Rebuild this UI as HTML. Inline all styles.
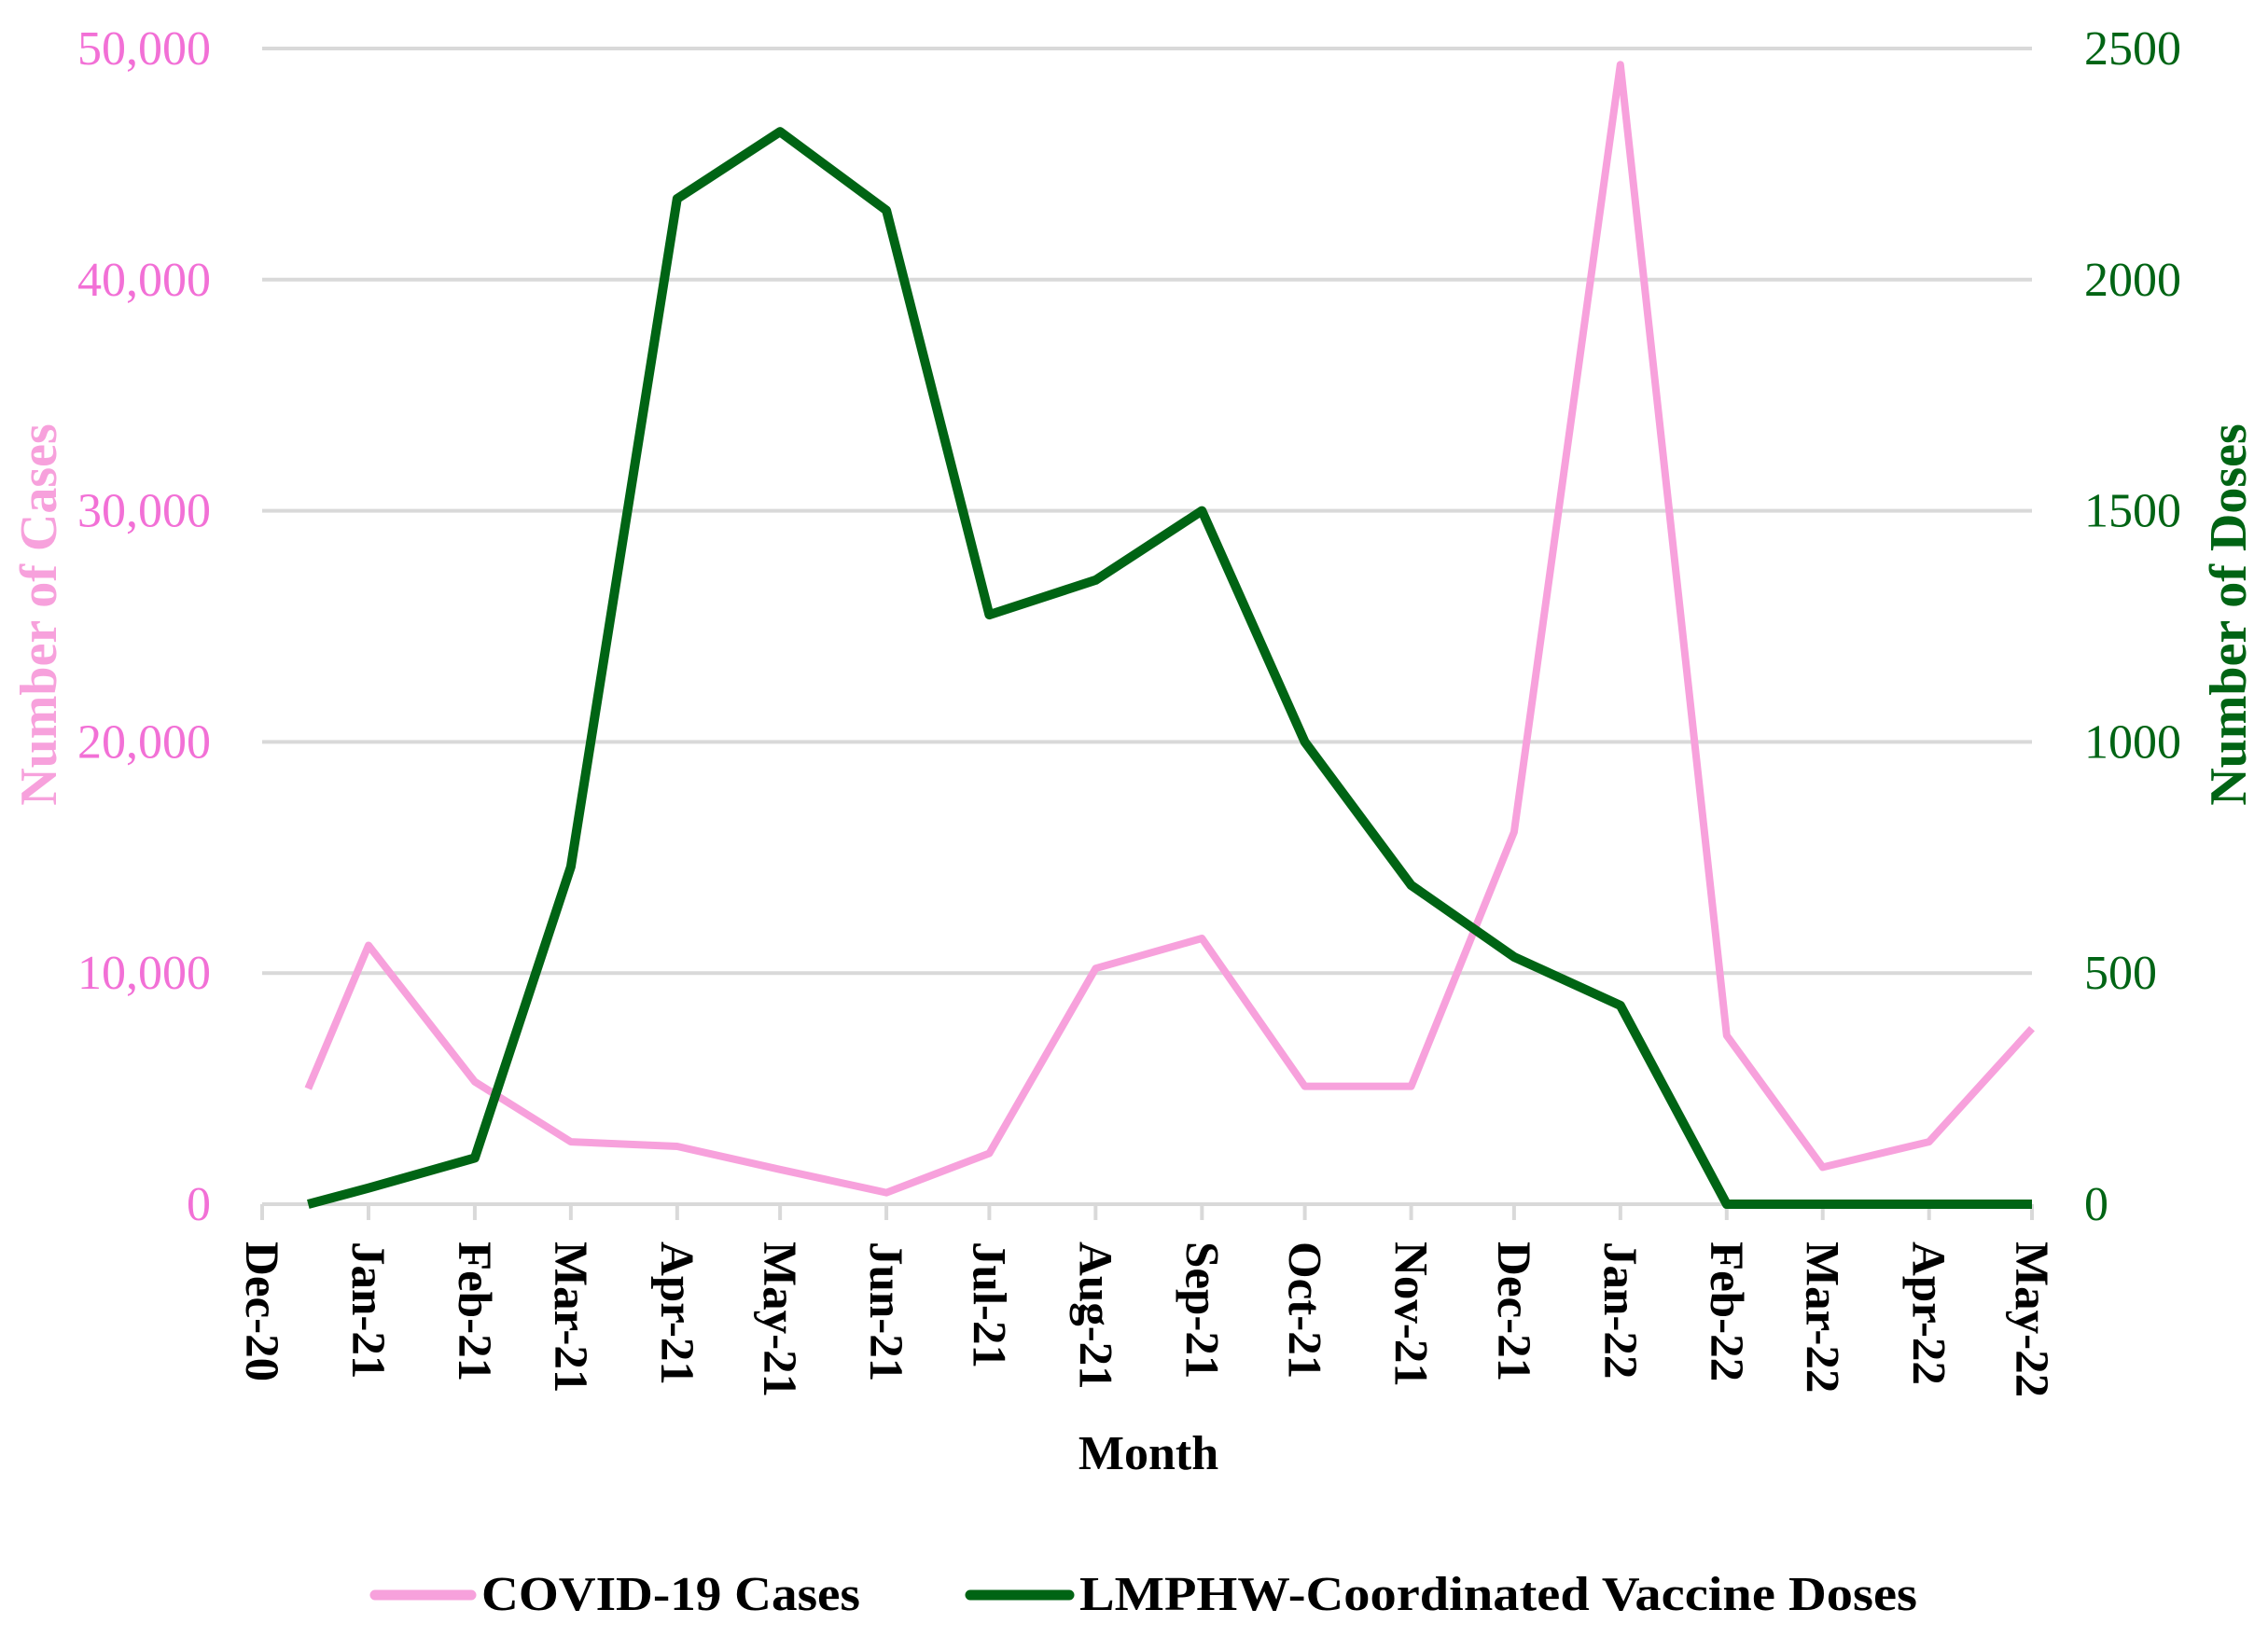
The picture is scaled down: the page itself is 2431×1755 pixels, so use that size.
<!DOCTYPE html>
<html><head><meta charset="utf-8"><style>
html,body{margin:0;padding:0;background:#fff;}
svg{display:block;}
text{font-family:"Liberation Serif",serif;}
</style></head><body>
<svg id="s" width="2431" height="1755" viewBox="0 0 2431 1755" xmlns="http://www.w3.org/2000/svg">
<g id="grid" stroke="#d9d9d9" stroke-width="4"></g>
<g id="ticks" stroke="#d9d9d9" stroke-width="4"></g>
<g id="ylab" font-size="52" fill="#f270d6" text-anchor="end"></g>
<g id="yrlab" font-size="52" fill="#006414" text-anchor="start"></g>
<g id="xlab" font-size="51" font-weight="bold" fill="#000"></g>
<polyline id="pink" fill="none" stroke="#f7a1dc" stroke-width="8" stroke-linejoin="round"/>
<polyline id="green" fill="none" stroke="#006414" stroke-width="10" stroke-linejoin="round"/>
<text x="1231" y="1575" font-size="52" font-weight="bold" text-anchor="middle">Month</text>
<text transform="translate(60,659) rotate(-90)" font-size="56" font-weight="bold" fill="#f7a1dc" text-anchor="middle">Number of Cases</text>
<text transform="translate(2407,659) rotate(-90)" font-size="56" font-weight="bold" fill="#006414" text-anchor="middle">Number of Doses</text>
<line x1="402" y1="1710" x2="505" y2="1710" stroke="#f7a1dc" stroke-width="11" stroke-linecap="round"/>
<text x="516" y="1726" font-size="52" font-weight="bold" textLength="406" lengthAdjust="spacingAndGlyphs">COVID-19 Cases</text>
<line x1="1040" y1="1710" x2="1146" y2="1710" stroke="#006414" stroke-width="11" stroke-linecap="round"/>
<text x="1157" y="1726" font-size="52" font-weight="bold" textLength="898" lengthAdjust="spacingAndGlyphs">LMPHW-Coordinated Vaccine Doses</text>
</svg>
<script>
var NS="http://www.w3.org/2000/svg";
function el(p,t,a,txt){var e=document.createElementNS(NS,t);for(var k in a)e.setAttribute(k,a[k]);if(txt)e.textContent=txt;document.getElementById(p).appendChild(e);return e;}
var x0=281,x1=2178,y0=1291,yt=52;
var days=[0,31,62,90,121,151,182,212,243,274,304,335,365,396,427,455,486,516];
var names=["Dec-20","Jan-21","Feb-21","Mar-21","Apr-21","May-21","Jun-21","Jul-21","Aug-21","Sep-21","Oct-21","Nov-21","Dec-21","Jan-22","Feb-22","Mar-22","Apr-22","May-22"];
var ppd=(x1-x0)/516;
function X(d){return x0+d*ppd;}
for(var i=0;i<=5;i++){var y=y0-i*(y0-yt)/5;
 el("grid","line",{x1:x0,y1:y,x2:x1,y2:y});
 el("ylab","text",{x:226,y:y+17},i==0?"0":(i*10)+",000");
 el("yrlab","text",{x:2234,y:y+17},String(i*500));}
for(var i=0;i<days.length;i++){var x=X(days[i]);
 el("ticks","line",{x1:x,y1:y0,x2:x,y2:y0+17});
 el("xlab","text",{transform:"translate("+(x-17)+",1331) rotate(90)"},names[i]);}
var cd=[13.4].concat(days.slice(1));
var cases=[5000,11200,5300,2700,2500,1500,500,2200,10200,11500,5100,5100,16100,49300,7300,1600,2700,7600];
var doses=[0,35,100,730,2175,2320,2150,1275,1350,1500,1000,690,535,430,0,0,0,0];
function pts(v,m){return v.map(function(a,i){return X(cd[i]).toFixed(1)+","+(y0-a/m*(y0-yt)).toFixed(1);}).join(" ");}
document.getElementById("pink").setAttribute("points",pts(cases,50000));
document.getElementById("green").setAttribute("points",pts(doses,2500));
</script>
</body></html>
